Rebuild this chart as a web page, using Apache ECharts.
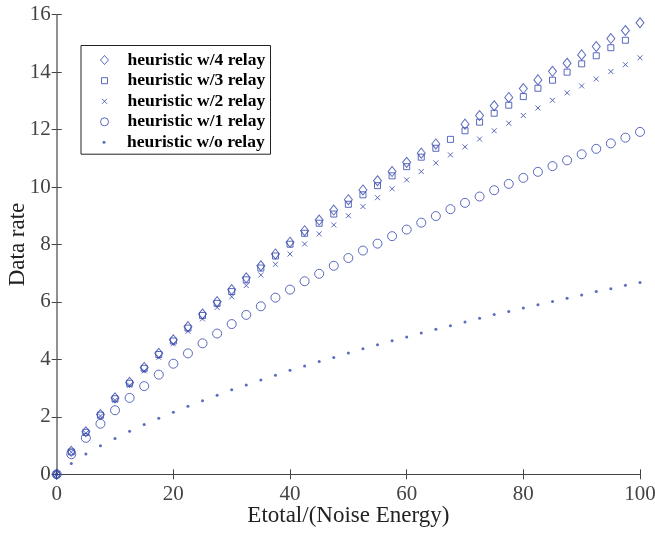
<!DOCTYPE html>
<html>
<head>
<meta charset="utf-8">
<script src="https://cdn.jsdelivr.net/npm/echarts@6/dist/echarts.min.js"></script>
<style>html,body{margin:0;padding:0;background:#fff;}#c{width:655px;height:538px;}</style>
</head>
<body>
<div id="c"></div>
<script>
const xValues = [0,2.5,5,7.5,10,12.5,15,17.5,20,22.5,25,27.5,30,32.5,35,37.5,40,42.5,45,47.5,50,52.5,55,57.5,60,62.5,65,67.5,70,72.5,75,77.5,80,82.5,85,87.5,90,92.5,95,97.5,100];
const relay4 = [0,0.80,1.48,2.08,2.66,3.20,3.72,4.21,4.68,5.14,5.58,6.01,6.43,6.84,7.26,7.67,8.08,8.48,8.85,9.20,9.56,9.90,10.22,10.54,10.86,11.18,11.50,null,12.19,12.49,12.83,13.12,13.43,13.73,14.03,14.31,14.60,14.89,15.17,15.45,15.72];
const relay3 = [0,0.78,1.46,2.06,2.63,3.17,3.69,4.17,4.64,5.09,5.53,5.95,6.36,6.77,7.18,7.60,8.01,8.39,8.74,9.06,9.40,9.73,10.05,10.39,10.71,11.04,11.35,11.66,11.96,12.26,12.57,12.85,13.15,13.44,13.72,14.00,14.29,14.57,14.85,15.11,null];
const relay2 = [0,0.77,1.43,2.03,2.58,3.10,3.60,4.07,4.54,4.98,5.41,5.81,6.18,6.57,6.94,7.31,7.67,8.02,8.37,8.68,9.00,9.32,9.63,9.94,10.25,10.54,10.84,11.12,11.40,11.67,11.96,12.22,12.49,12.75,13.02,13.28,13.52,13.76,14.02,14.26,14.50];
const relay1 = [0,0.70,1.27,1.76,2.23,2.66,3.07,3.47,3.85,4.21,4.56,4.90,5.23,5.55,5.85,6.15,6.43,6.72,6.98,7.26,7.53,7.79,8.03,8.29,8.52,8.76,8.99,9.23,9.45,9.67,9.89,10.11,10.32,10.53,10.73,10.93,11.14,11.33,11.52,11.72,11.92];
const relay0 = [0,0.38,0.71,0.99,1.25,1.50,1.73,1.95,2.16,2.37,2.56,2.75,2.94,3.11,3.28,3.45,3.62,3.77,3.93,4.07,4.22,4.37,4.51,4.65,4.78,4.92,5.05,5.17,5.30,5.43,5.56,5.67,5.79,5.90,6.02,6.13,6.24,6.36,6.46,6.58,6.68];
const seriesNames = ['heuristic w/4 relay','heuristic w/3 relay','heuristic w/2 relay','heuristic w/1 relay','heuristic w/o relay'];
const xTicks = [0,20,40,60,80,100];
const yTicks = [0,2,4,6,8,10,12,14,16];

const C = '#3346ad';
const serif = 'Liberation Serif';
const crossPath = 'path://M0,0L10,10M10,0L0,10';

function pts(arr){ return xValues.map((x,i)=>[x,arr[i]]); }

const seriesDefs = [
  {data: relay4, symbol: 'diamond', size: [8,10], legSize: [8,9]},
  {data: relay3, symbol: 'rect', size: [6,6], legSize: [6,6]},
  {data: relay2, symbol: crossPath, size: [5,5], legSize: [5,5]},
  {data: relay1, symbol: 'circle', size: [9,9], legSize: [8,8]},
  {data: relay0, symbol: 'circle', size: [3,3], legSize: [3,3], filled: true}
];

const legendRows = [60, 80.7, 101.3, 121.8, 142.3];
const legIconX = 104, legTextX = 127;

const series = seriesDefs.map((d,i)=>({
  name: seriesNames[i],
  type: 'scatter',
  data: pts(d.data),
  symbol: d.symbol,
  symbolSize: d.size,
  itemStyle: d.filled ? {color: C, borderWidth: 0} : {color: 'transparent', borderColor: C, borderWidth: 1},
  emphasis: {disabled: true},
  z: 5 - i
}));

const legends = seriesDefs.map((d,i)=>{
  const w = d.legSize[0];
  const iconLeft = legIconX - w / 2;
  const textStart = iconLeft + w + 5;
  return {
    data: [{name: seriesNames[i], icon: d.symbol}],
    left: iconLeft,
    top: legendRows[i] - 10,
    padding: 0,
    itemWidth: w,
    itemHeight: d.legSize[1],
    selectedMode: false,
    itemStyle: d.filled ? {color: C, borderWidth: 0} : {color: 'transparent', borderColor: C, borderWidth: 1},
    textStyle: {fontFamily: serif, fontWeight: 'bold', fontSize: 17.5, color: '#000', lineHeight: 20,
                padding: [0, 0, 0, legTextX - textStart]}
  };
});

const axisLineDark = {show: true, lineStyle: {color: '#444', width: 1}};
const axisLineSide = {show: true, lineStyle: {color: '#8c8c8c', width: 1.6}};

const option = {
  animation: false,
  backgroundColor: '#fff',
  grid: {left: 56.7, right: 15, top: 14.7, bottom: 63.7, containLabel: false, outerBoundsMode: 'none'},
  legend: legends,
  xAxis: [
    {type: 'value', min: 0, max: 100, interval: 20, position: 'bottom',
     axisLine: axisLineDark, axisTick: {inside: true, length: 5, lineStyle: {color: '#444'}},
     axisLabel: {fontFamily: serif, fontSize: 21, color: '#444', margin: 10},
     splitLine: {show: false},
     name: 'Etotal/(Noise Energy)', nameLocation: 'middle', nameGap: 30, nameMoveOverlap: false,
     nameTextStyle: {fontFamily: serif, fontSize: 23, color: '#222', verticalAlign: 'top'}},
    {type: 'value', min: 0, max: 100, interval: 20, position: 'top',
     axisLine: axisLineDark, axisTick: {inside: true, length: 5, lineStyle: {color: '#444'}},
     axisLabel: {show: false}, splitLine: {show: false}}
  ],
  yAxis: [
    {type: 'value', min: 0, max: 16, interval: 2, position: 'left',
     axisLine: axisLineSide, axisTick: {inside: true, length: 5, lineStyle: {color: '#444'}},
     axisLabel: {fontFamily: serif, fontSize: 21, color: '#444', margin: 6},
     splitLine: {show: false},
     name: 'Data rate', nameLocation: 'middle', nameGap: 27, nameRotate: 90, nameMoveOverlap: false,
     nameTextStyle: {fontFamily: serif, fontSize: 23, color: '#222'}},
    {type: 'value', min: 0, max: 16, interval: 2, position: 'right',
     axisLine: axisLineSide, axisTick: {inside: true, length: 5, lineStyle: {color: '#444'}},
     axisLabel: {show: false}, splitLine: {show: false}}
  ],
  graphic: [{
    type: 'rect', left: 80.5, top: 45, z: 0,
    shape: {width: 189.5, height: 108.7},
    style: {fill: '#fff', stroke: '#222', lineWidth: 1}
  }],
  series: series
};

const chart = echarts.init(document.getElementById('c'), null, {renderer: 'canvas'});
chart.setOption(option);
</script>
</body>
</html>
